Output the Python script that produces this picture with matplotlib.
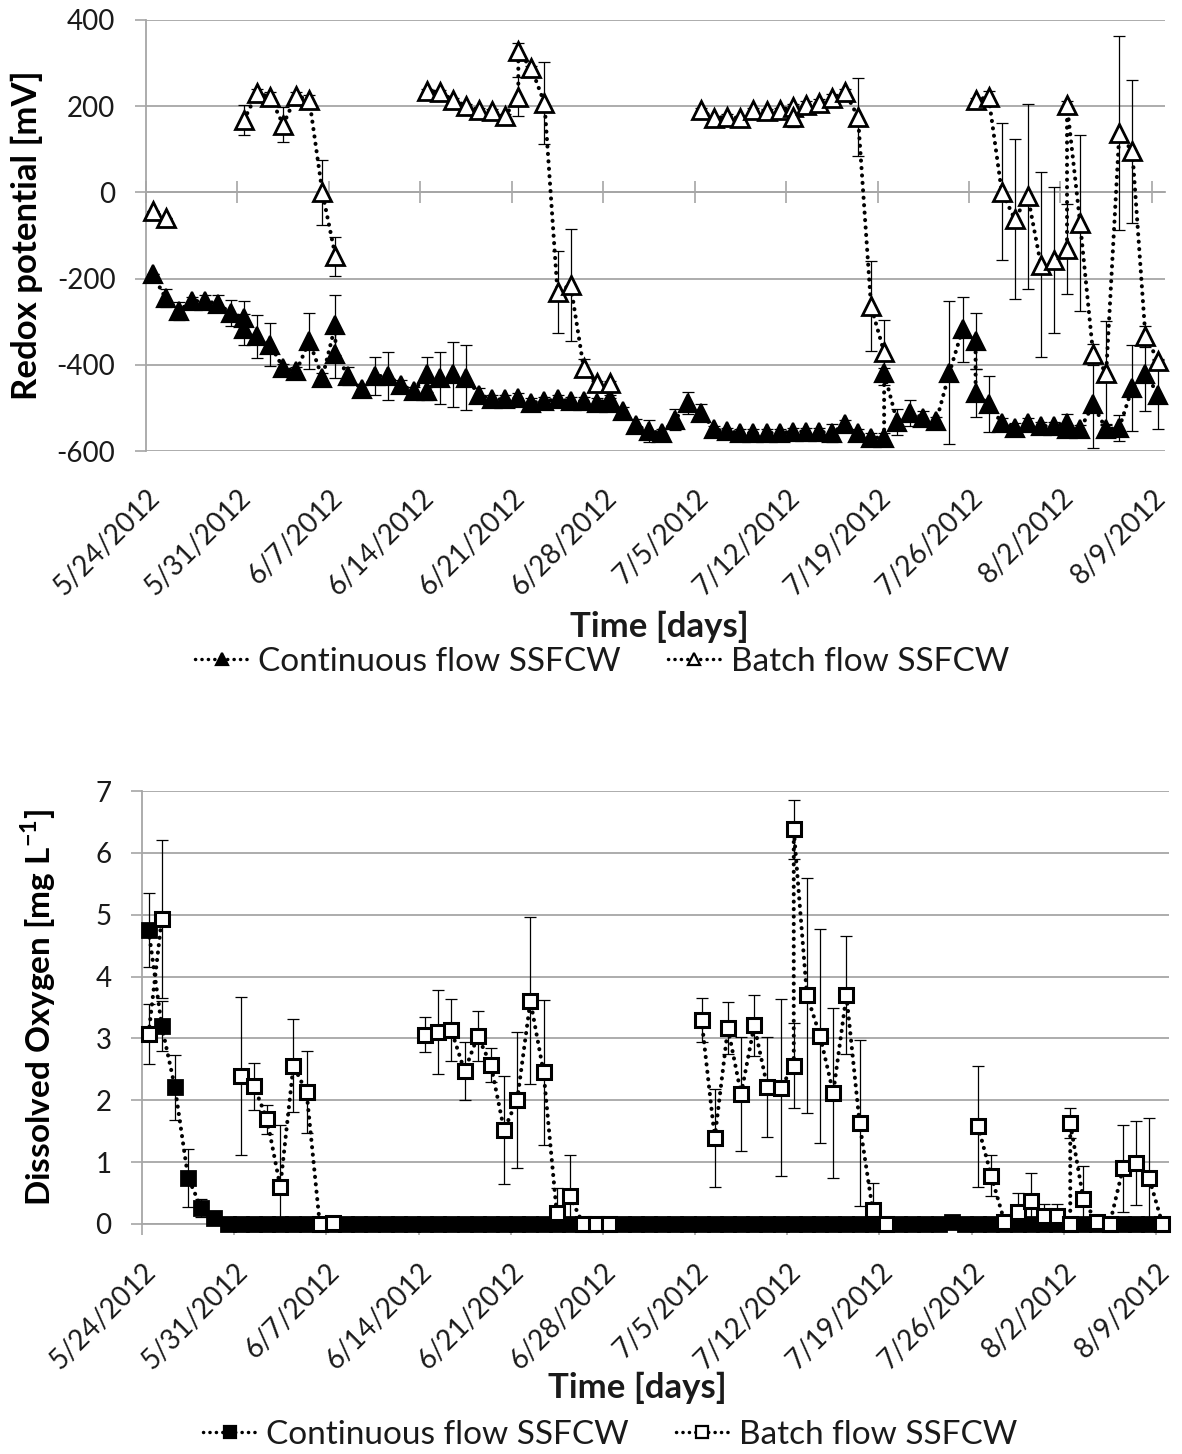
import numpy as np
import matplotlib
matplotlib.use('Agg')
import matplotlib.pyplot as plt
import matplotlib.transforms as mtransforms
from matplotlib.lines import Line2D
from datetime import datetime

plt.rcParams['font.family'] = ['Lato', 'DejaVu Sans']
plt.rcParams['mathtext.fontset'] = 'custom'
plt.rcParams['mathtext.rm'] = 'Lato'
plt.rcParams['mathtext.bf'] = 'Lato:bold'
plt.rcParams['axes.unicode_minus'] = False

# x-axis: dates (days counted from 5/24/2012)
tick_labels = ['5/24/2012', '5/31/2012', '6/7/2012', '6/14/2012', '6/21/2012', '6/28/2012',
               '7/5/2012', '7/12/2012', '7/19/2012', '7/26/2012', '8/2/2012', '8/9/2012']
start = datetime(2012, 5, 24)
tick_days = [(datetime.strptime(s, '%m/%d/%Y') - start).days for s in tick_labels]

# ---- Redox potential [mV] ----
redox_cont_days = [0, 1, 2, 3, 4, 5, 6, 7, 7, 8, 9, 10, 11, 12, 13, 14, 14, 15, 16, 17, 18, 19, 20,
                   21, 21, 22, 23, 24, 25, 26, 27, 28, 29, 30, 31, 32, 33, 34, 35, 35, 36, 37, 38,
                   39, 40, 41, 42, 43, 44, 45, 46, 47, 48, 49, 50, 51, 52, 53, 54, 55, 56, 56, 57,
                   58, 59, 60, 61, 62, 63, 63, 64, 65, 66, 67, 68, 69, 70, 70, 71, 72, 73, 74, 75,
                   76, 77]
redox_cont = [-190, -245, -275, -252, -252, -258, -280, -291, -318, -334, -353, -407, -415, -345,
              -430, -307, -376, -426, -457, -426, -426, -446, -461, -422, -461, -430, -422, -430,
              -469, -480, -480, -476, -488, -484, -480, -484, -484, -488, -480, -488, -507, -540,
              -554, -558, -527, -488, -511, -550, -554, -558, -558, -558, -558, -555, -555, -555,
              -558, -538, -558, -569, -569, -418, -533, -511, -523, -530, -418, -318, -345, -465,
              -492, -534, -546, -534, -542, -542, -534, -550, -550, -492, -550, -546, -453, -422,
              -469]
redox_cont_err = [0, 20, 20, 10, 15, 20, 30, 40, 35, 50, 50, 10, 10, 65, 10, 70, 55, 20, 10, 45,
                  55, 10, 10, 40, 20, 60, 75, 75, 15, 10, 10, 10, 10, 10, 10, 10, 10, 10, 10, 10,
                  10, 15, 25, 10, 25, 25, 20, 8, 8, 8, 8, 8, 8, 8, 8, 8, 20, 10, 10, 10, 10, 10,
                  30, 30, 15, 10, 165, 75, 65, 55, 65, 10, 10, 10, 10, 10, 20, 10, 10, 100, 10,
                  30, 100, 85, 80]

redox_batch_days = [0, 1, 7, 8, 9, 10, 11, 12, 13, 14, 21, 22, 23, 24, 25, 26, 27, 28, 28, 29, 30,
                    31, 32, 33, 34, 35, 42, 43, 44, 45, 46, 47, 48, 49, 49, 50, 51, 52, 53, 54, 55,
                    56, 63, 64, 65, 66, 67, 68, 69, 70, 70, 71, 72, 73, 74, 75, 76, 77]
redox_batch = [-44, -60, 168, 230, 222, 157, 224, 215, 0, -148, 236, 232, 215, 201, 191, 188, 178,
               222, 327, 288, 207, -232, -214, -407, -443, -443, 191, 172, 176, 172, 191, 188, 191,
               199, 176, 203, 207, 218, 234, 175, -264, -371, 215, 221, 2, -62, -9, -168, -157,
               -131, 203, -71, -376, -418, 137, 95, -334, -392]
redox_batch_err = [0, 0, 35, 10, 10, 40, 10, 10, 75, 45, 5, 5, 5, 5, 5, 5, 5, 45, 20, 5, 95, 95,
                   130, 20, 5, 5, 5, 5, 5, 5, 5, 5, 5, 5, 25, 10, 10, 10, 5, 90, 105, 75, 5, 15,
                   160, 185, 215, 215, 170, 105, 10, 205, 25, 120, 225, 165, 25, 5]

# ---- Dissolved oxygen [mg/L] ----
do_cont_days = list(range(0, 78))
do_cont = [4.75, 3.2, 2.21, 0.75, 0.26, 0.1, 0.0, 0.0, 0.0, 0.0, 0.0, 0.0,
           0.0, 0.0, 0.0, 0.0, 0.0, 0.0, 0.0, 0.0, 0.0, 0.0, 0.0, 0.0,
           0.0, 0.0, 0.0, 0.0, 0.0, 0.0, 0.0, 0.0, 0.0, 0.0, 0.0, 0.0,
           0.0, 0.0, 0.0, 0.0, 0.0, 0.0, 0.0, 0.0, 0.0, 0.0, 0.0, 0.0,
           0.0, 0.0, 0.0, 0.0, 0.0, 0.0, 0.0, 0.0, 0.0, 0.0, 0.0, 0.0,
           0.0, 0.03, 0.0, 0.0, 0.0, 0.0, 0.0, 0.0, 0.0, 0.0, 0.0, 0.0,
           0.0, 0.0, 0.0, 0.0, 0.0, 0.0]
do_cont_err = [0.6, 0.4, 0.53, 0.47, 0.15, 0.05, 0, 0, 0, 0, 0, 0,
               0, 0, 0, 0, 0, 0, 0, 0, 0, 0, 0, 0,
               0, 0, 0, 0, 0, 0, 0, 0, 0, 0, 0, 0,
               0, 0, 0, 0, 0, 0, 0, 0, 0, 0, 0, 0,
               0, 0, 0, 0, 0, 0, 0, 0, 0, 0, 0, 0,
               0, 0, 0, 0, 0, 0, 0, 0, 0, 0, 0, 0,
               0, 0, 0, 0, 0, 0]

do_batch_days = [0, 1, 7, 8, 9, 10, 11, 12, 13, 14, 21, 22, 23, 24, 25, 26, 27, 28, 29, 30, 31,
                 32, 33, 34, 35, 42, 43, 44, 45, 46, 47, 48, 49, 49, 50, 51, 52, 53, 54, 55, 56,
                 63, 64, 65, 66, 67, 68, 69, 70, 70, 71, 72, 73, 74, 75, 76, 77]
do_batch = [3.07, 4.93, 2.39, 2.23, 1.69, 0.6, 2.56, 2.13, 0.0, 0.02, 3.06, 3.1, 3.13, 2.47, 3.04,
            2.57, 1.52, 2.01, 3.61, 2.45, 0.18, 0.45, 0.0, 0.0, 0.0, 3.3, 1.39, 3.17, 2.1, 3.21,
            2.21, 2.2, 2.56, 6.38, 3.7, 3.04, 2.12, 3.7, 1.63, 0.22, 0.0, 1.58, 0.78, 0.04, 0.2,
            0.37, 0.13, 0.13, 0.0, 1.63, 0.4, 0.03, 0.0, 0.9, 0.99, 0.74, 0.0]
do_batch_err = [0.48, 1.27, 1.28, 0.38, 0.24, 1.0, 0.75, 0.66, 0, 0, 0.28, 0.68, 0.5, 0.47, 0.41,
                0.27, 0.88, 1.1, 1.35, 1.17, 0.4, 0.66, 0, 0, 0, 0.35, 0.79, 0.42, 0.92, 0.5,
                0.81, 1.43, 0.69, 0.48, 1.9, 1.73, 1.37, 0.95, 1.34, 0.45, 0, 0.98, 0.33, 0, 0.3,
                0.45, 0.2, 0.2, 0, 0.24, 0.53, 0, 0, 0.7, 0.68, 0.97, 0]

GRID = '#a6a6a6'
TXT = '#1a1a1a'
DOT = (0, (0.05, 1.8))
W, H = 1182, 1454
plt.rcParams['text.color'] = TXT
plt.rcParams['xtick.labelcolor'] = TXT
plt.rcParams['ytick.labelcolor'] = TXT


def draw_series(ax, days, vals, errs, marker, face, ms, mew, z):
    days = np.asarray(days)
    x = days + 0.5  # points sit in the middle of their day
    vals = np.asarray(vals, dtype=float)
    ax.errorbar(x, vals, yerr=errs, fmt='none', ecolor='black', elinewidth=0.9,
                capsize=4, capthick=0.9, zorder=z)
    # gaps in the record break the dotted line
    breaks = np.where(np.diff(days) > 1)[0] + 1
    for xs, ys in zip(np.split(x, breaks), np.split(vals, breaks)):
        ax.plot(xs, ys, ls=DOT, lw=2.9, color='black', dash_capstyle='round',
                marker=marker, ms=ms, mfc=face, mec='black', mew=mew,
                clip_on=False, zorder=z + 1)


def style_axes(ax, ylim, yticks):
    ax.set_xlim(0, 78)
    ax.set_ylim(*ylim)
    ax.set_yticks(yticks)
    ax.yaxis.grid(True, color=GRID, lw=1.3)
    ax.set_axisbelow(True)
    for s in ['top', 'right']:
        ax.spines[s].set_visible(False)
    ax.spines['left'].set_color(GRID)
    ax.spines['left'].set_linewidth(1.3)
    ax.tick_params(axis='y', direction='out', length=8, width=1.2, color=GRID,
                   labelsize=20, pad=14)
    ax.set_xticks(tick_days)
    ax.set_xticklabels(tick_labels, rotation=45, ha='right', rotation_mode='anchor',
                       fontsize=20)
    shift = mtransforms.ScaledTranslation(6 / 72, 0, ax.figure.dpi_scale_trans)
    for lab in ax.get_xticklabels():
        lab.set_transform(lab.get_transform() + shift)


def legend_handles(marker):
    return [Line2D([], [], ls=DOT, lw=2.5, color='black', dash_capstyle='round', marker=marker,
                   ms=9, mfc=face, mec='black', mew=1.6) for face in ['black', 'white']]


fig = plt.figure(figsize=(W / 100, H / 100), dpi=100)

# ---------------- top panel: redox ----------------
ax1 = fig.add_axes([146 / W, 1 - 451 / H, 1019 / W, 431 / H])
style_axes(ax1, (-600, 400), [-600, -400, -200, 0, 200, 400])
ax1.spines['bottom'].set_visible(False)
ax1.tick_params(axis='x', length=0, pad=24)
zero_axis = ax1.secondary_xaxis(600 / 1000)
zero_axis.set_xticks(tick_days)
zero_axis.tick_params(axis='x', direction='inout', length=16, width=1.2, color=GRID,
                      labeltop=False, labelbottom=False)
for s in zero_axis.spines.values():
    s.set_color(GRID)
    s.set_linewidth(1.3)

draw_series(ax1, redox_cont_days, redox_cont, redox_cont_err, '^', 'black', 12.5, 1.6, 2)
draw_series(ax1, redox_batch_days, redox_batch, redox_batch_err, '^', 'white', 12.5, 2.0, 4)
ax1.set_ylabel('Redox potential [mV]', fontsize=25, fontweight='bold')
ax1.yaxis.set_label_coords(-0.101, 0.5)
fig.text(659 / W, 1 - 627 / H, 'Time [days]', fontsize=25, fontweight='bold',
         ha='center', va='center')
fig.legend(legend_handles('^'), ['Continuous flow SSFCW', 'Batch flow SSFCW'], loc='center',
           bbox_to_anchor=(602 / W, 1 - 662 / H), ncol=2, frameon=False, fontsize=24,
           handlelength=1.6, handletextpad=0.3, columnspacing=1.4)

# ---------------- bottom panel: dissolved oxygen ----------------
ax2 = fig.add_axes([142 / W, 1 - 1224 / H, 1027 / W, 433 / H])
style_axes(ax2, (0, 7), list(range(0, 8)))
ax2.spines['bottom'].set_color(GRID)
ax2.spines['bottom'].set_linewidth(1.3)
ax2.tick_params(axis='x', direction='out', length=8, width=1.2, color=GRID, pad=17)

draw_series(ax2, do_cont_days, do_cont, do_cont_err, 's', 'black', 10.5, 2.0, 2)
draw_series(ax2, do_batch_days, do_batch, do_batch_err, 's', 'white', 10.5, 2.2, 4)
ax2.set_ylabel(r'Dissolved Oxygen [mg L$^{\mathbf{-1}}$]', fontsize=24, fontweight='bold')
ax2.yaxis.set_label_coords(-0.082, 0.5)
fig.text(637 / W, 1 - 1388 / H, 'Time [days]', fontsize=25, fontweight='bold',
         ha='center', va='center')
fig.legend(legend_handles('s'), ['Continuous flow SSFCW', 'Batch flow SSFCW'], loc='center',
           bbox_to_anchor=(610 / W, 1 - 1435 / H), ncol=2, frameon=False, fontsize=24,
           handlelength=1.6, handletextpad=0.3, columnspacing=1.4)

fig.savefig('out.png', dpi=100)
